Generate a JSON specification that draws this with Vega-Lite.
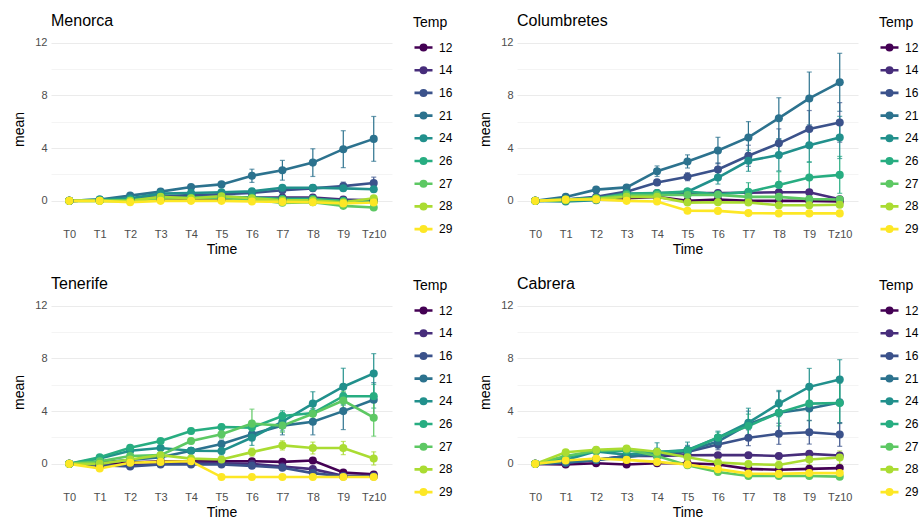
{
"$schema": "https://vega.github.io/schema/vega-lite/v6.json",
"padding": {"left": 12, "top": 13, "right": 0, "bottom": 0},
"background": "white",
"config": {
  "font": "Liberation Sans",
  "view": {"stroke": null},
  "axis": {"domain": false, "ticks": false, "gridColor": "#EBEBEB", "gridWidth": 1.1, "labelColor": "#4D4D4D", "labelFontSize": 11, "titleFontSize": 14, "titleFontWeight": "normal", "titleColor": "#000000"},
  "title": {"fontSize": 16, "fontWeight": "normal", "color": "#000000", "anchor": "start", "frame": "group", "offset": -13},
  "legend": {"symbolOpacity": 1}
},
"data": {"values": [
{"Site":"Menorca","Temp":12,"Time":"T0","mean":0,"se":0},{"Site":"Menorca","Temp":12,"Time":"T1","mean":0.05,"se":0.03},{"Site":"Menorca","Temp":12,"Time":"T2","mean":0.1,"se":0.05},{"Site":"Menorca","Temp":12,"Time":"T3","mean":0.15,"se":0.05},{"Site":"Menorca","Temp":12,"Time":"T4","mean":0.15,"se":0.05},{"Site":"Menorca","Temp":12,"Time":"T5","mean":0.15,"se":0.05},{"Site":"Menorca","Temp":12,"Time":"T6","mean":0.15,"se":0.05},{"Site":"Menorca","Temp":12,"Time":"T7","mean":0.1,"se":0.05},{"Site":"Menorca","Temp":12,"Time":"T8","mean":0.1,"se":0.05},{"Site":"Menorca","Temp":12,"Time":"T9","mean":0.05,"se":0.05},{"Site":"Menorca","Temp":12,"Time":"Tz10","mean":0.0,"se":0.05},
{"Site":"Menorca","Temp":14,"Time":"T0","mean":0,"se":0},{"Site":"Menorca","Temp":14,"Time":"T1","mean":0.05,"se":0.03},{"Site":"Menorca","Temp":14,"Time":"T2","mean":0.15,"se":0.05},{"Site":"Menorca","Temp":14,"Time":"T3","mean":0.3,"se":0.08},{"Site":"Menorca","Temp":14,"Time":"T4","mean":0.3,"se":0.08},{"Site":"Menorca","Temp":14,"Time":"T5","mean":0.3,"se":0.08},{"Site":"Menorca","Temp":14,"Time":"T6","mean":0.25,"se":0.1},{"Site":"Menorca","Temp":14,"Time":"T7","mean":0.25,"se":0.1},{"Site":"Menorca","Temp":14,"Time":"T8","mean":0.25,"se":0.1},{"Site":"Menorca","Temp":14,"Time":"T9","mean":0.1,"se":0.1},{"Site":"Menorca","Temp":14,"Time":"Tz10","mean":0.05,"se":0.1},
{"Site":"Menorca","Temp":16,"Time":"T0","mean":0,"se":0},{"Site":"Menorca","Temp":16,"Time":"T1","mean":0.05,"se":0.03},{"Site":"Menorca","Temp":16,"Time":"T2","mean":0.15,"se":0.05},{"Site":"Menorca","Temp":16,"Time":"T3","mean":0.35,"se":0.1},{"Site":"Menorca","Temp":16,"Time":"T4","mean":0.45,"se":0.1},{"Site":"Menorca","Temp":16,"Time":"T5","mean":0.5,"se":0.15},{"Site":"Menorca","Temp":16,"Time":"T6","mean":0.6,"se":0.15},{"Site":"Menorca","Temp":16,"Time":"T7","mean":0.8,"se":0.2},{"Site":"Menorca","Temp":16,"Time":"T8","mean":0.95,"se":0.2},{"Site":"Menorca","Temp":16,"Time":"T9","mean":1.12,"se":0.3},{"Site":"Menorca","Temp":16,"Time":"Tz10","mean":1.35,"se":0.45},
{"Site":"Menorca","Temp":21,"Time":"T0","mean":0,"se":0},{"Site":"Menorca","Temp":21,"Time":"T1","mean":0.1,"se":0.05},{"Site":"Menorca","Temp":21,"Time":"T2","mean":0.4,"se":0.1},{"Site":"Menorca","Temp":21,"Time":"T3","mean":0.7,"se":0.1},{"Site":"Menorca","Temp":21,"Time":"T4","mean":1.05,"se":0.15},{"Site":"Menorca","Temp":21,"Time":"T5","mean":1.25,"se":0.2},{"Site":"Menorca","Temp":21,"Time":"T6","mean":1.9,"se":0.5},{"Site":"Menorca","Temp":21,"Time":"T7","mean":2.32,"se":0.75},{"Site":"Menorca","Temp":21,"Time":"T8","mean":2.9,"se":1.05},{"Site":"Menorca","Temp":21,"Time":"T9","mean":3.92,"se":1.4},{"Site":"Menorca","Temp":21,"Time":"Tz10","mean":4.7,"se":1.7},
{"Site":"Menorca","Temp":24,"Time":"T0","mean":0,"se":0},{"Site":"Menorca","Temp":24,"Time":"T1","mean":0.1,"se":0.03},{"Site":"Menorca","Temp":24,"Time":"T2","mean":0.2,"se":0.05},{"Site":"Menorca","Temp":24,"Time":"T3","mean":0.55,"se":0.1},{"Site":"Menorca","Temp":24,"Time":"T4","mean":0.6,"se":0.1},{"Site":"Menorca","Temp":24,"Time":"T5","mean":0.65,"se":0.1},{"Site":"Menorca","Temp":24,"Time":"T6","mean":0.72,"se":0.15},{"Site":"Menorca","Temp":24,"Time":"T7","mean":1.0,"se":0.15},{"Site":"Menorca","Temp":24,"Time":"T8","mean":1.0,"se":0.2},{"Site":"Menorca","Temp":24,"Time":"T9","mean":0.95,"se":0.2},{"Site":"Menorca","Temp":24,"Time":"Tz10","mean":0.88,"se":0.2},
{"Site":"Menorca","Temp":26,"Time":"T0","mean":0,"se":0},{"Site":"Menorca","Temp":26,"Time":"T1","mean":0.05,"se":0.03},{"Site":"Menorca","Temp":26,"Time":"T2","mean":0.1,"se":0.05},{"Site":"Menorca","Temp":26,"Time":"T3","mean":0.2,"se":0.05},{"Site":"Menorca","Temp":26,"Time":"T4","mean":0.25,"se":0.05},{"Site":"Menorca","Temp":26,"Time":"T5","mean":0.3,"se":0.05},{"Site":"Menorca","Temp":26,"Time":"T6","mean":0.25,"se":0.05},{"Site":"Menorca","Temp":26,"Time":"T7","mean":0.15,"se":0.1},{"Site":"Menorca","Temp":26,"Time":"T8","mean":0.15,"se":0.1},{"Site":"Menorca","Temp":26,"Time":"T9","mean":0.0,"se":0.1},{"Site":"Menorca","Temp":26,"Time":"Tz10","mean":-0.05,"se":0.1},
{"Site":"Menorca","Temp":27,"Time":"T0","mean":0,"se":0},{"Site":"Menorca","Temp":27,"Time":"T1","mean":0.0,"se":0.03},{"Site":"Menorca","Temp":27,"Time":"T2","mean":0.0,"se":0.05},{"Site":"Menorca","Temp":27,"Time":"T3","mean":0.2,"se":0.05},{"Site":"Menorca","Temp":27,"Time":"T4","mean":0.2,"se":0.05},{"Site":"Menorca","Temp":27,"Time":"T5","mean":0.2,"se":0.05},{"Site":"Menorca","Temp":27,"Time":"T6","mean":0.1,"se":0.05},{"Site":"Menorca","Temp":27,"Time":"T7","mean":-0.15,"se":0.1},{"Site":"Menorca","Temp":27,"Time":"T8","mean":-0.1,"se":0.1},{"Site":"Menorca","Temp":27,"Time":"T9","mean":-0.38,"se":0.1},{"Site":"Menorca","Temp":27,"Time":"Tz10","mean":-0.5,"se":0.1},
{"Site":"Menorca","Temp":28,"Time":"T0","mean":0,"se":0},{"Site":"Menorca","Temp":28,"Time":"T1","mean":0.0,"se":0.03},{"Site":"Menorca","Temp":28,"Time":"T2","mean":0.0,"se":0.05},{"Site":"Menorca","Temp":28,"Time":"T3","mean":0.3,"se":0.05},{"Site":"Menorca","Temp":28,"Time":"T4","mean":0.2,"se":0.05},{"Site":"Menorca","Temp":28,"Time":"T5","mean":0.35,"se":0.05},{"Site":"Menorca","Temp":28,"Time":"T6","mean":0.2,"se":0.1},{"Site":"Menorca","Temp":28,"Time":"T7","mean":0.05,"se":0.1},{"Site":"Menorca","Temp":28,"Time":"T8","mean":0.05,"se":0.1},{"Site":"Menorca","Temp":28,"Time":"T9","mean":-0.1,"se":0.1},{"Site":"Menorca","Temp":28,"Time":"Tz10","mean":0.2,"se":0.15},
{"Site":"Menorca","Temp":29,"Time":"T0","mean":0,"se":0},{"Site":"Menorca","Temp":29,"Time":"T1","mean":0.0,"se":0.03},{"Site":"Menorca","Temp":29,"Time":"T2","mean":-0.1,"se":0.03},{"Site":"Menorca","Temp":29,"Time":"T3","mean":0.0,"se":0.03},{"Site":"Menorca","Temp":29,"Time":"T4","mean":0.0,"se":0.03},{"Site":"Menorca","Temp":29,"Time":"T5","mean":0.0,"se":0.03},{"Site":"Menorca","Temp":29,"Time":"T6","mean":-0.05,"se":0.03},{"Site":"Menorca","Temp":29,"Time":"T7","mean":-0.08,"se":0.03},{"Site":"Menorca","Temp":29,"Time":"T8","mean":-0.1,"se":0.05},{"Site":"Menorca","Temp":29,"Time":"T9","mean":-0.2,"se":0.05},{"Site":"Menorca","Temp":29,"Time":"Tz10","mean":-0.12,"se":0.05},
{"Site":"Columbretes","Temp":12,"Time":"T0","mean":0,"se":0},{"Site":"Columbretes","Temp":12,"Time":"T1","mean":0.05,"se":0.03},{"Site":"Columbretes","Temp":12,"Time":"T2","mean":0.1,"se":0.05},{"Site":"Columbretes","Temp":12,"Time":"T3","mean":0.2,"se":0.05},{"Site":"Columbretes","Temp":12,"Time":"T4","mean":0.3,"se":0.1},{"Site":"Columbretes","Temp":12,"Time":"T5","mean":0.0,"se":0.05},{"Site":"Columbretes","Temp":12,"Time":"T6","mean":0.1,"se":0.05},{"Site":"Columbretes","Temp":12,"Time":"T7","mean":0.0,"se":0.05},{"Site":"Columbretes","Temp":12,"Time":"T8","mean":0.0,"se":0.05},{"Site":"Columbretes","Temp":12,"Time":"T9","mean":0.0,"se":0.05},{"Site":"Columbretes","Temp":12,"Time":"Tz10","mean":-0.05,"se":0.05},
{"Site":"Columbretes","Temp":14,"Time":"T0","mean":0,"se":0},{"Site":"Columbretes","Temp":14,"Time":"T1","mean":0.1,"se":0.03},{"Site":"Columbretes","Temp":14,"Time":"T2","mean":0.2,"se":0.05},{"Site":"Columbretes","Temp":14,"Time":"T3","mean":0.5,"se":0.1},{"Site":"Columbretes","Temp":14,"Time":"T4","mean":0.6,"se":0.15},{"Site":"Columbretes","Temp":14,"Time":"T5","mean":0.6,"se":0.15},{"Site":"Columbretes","Temp":14,"Time":"T6","mean":0.6,"se":0.15},{"Site":"Columbretes","Temp":14,"Time":"T7","mean":0.62,"se":0.2},{"Site":"Columbretes","Temp":14,"Time":"T8","mean":0.65,"se":0.2},{"Site":"Columbretes","Temp":14,"Time":"T9","mean":0.65,"se":0.2},{"Site":"Columbretes","Temp":14,"Time":"Tz10","mean":0.12,"se":0.1},
{"Site":"Columbretes","Temp":16,"Time":"T0","mean":0,"se":0},{"Site":"Columbretes","Temp":16,"Time":"T1","mean":0.1,"se":0.05},{"Site":"Columbretes","Temp":16,"Time":"T2","mean":0.3,"se":0.1},{"Site":"Columbretes","Temp":16,"Time":"T3","mean":0.7,"se":0.1},{"Site":"Columbretes","Temp":16,"Time":"T4","mean":1.4,"se":0.2},{"Site":"Columbretes","Temp":16,"Time":"T5","mean":1.83,"se":0.3},{"Site":"Columbretes","Temp":16,"Time":"T6","mean":2.38,"se":0.5},{"Site":"Columbretes","Temp":16,"Time":"T7","mean":3.42,"se":0.8},{"Site":"Columbretes","Temp":16,"Time":"T8","mean":4.36,"se":1.1},{"Site":"Columbretes","Temp":16,"Time":"T9","mean":5.45,"se":1.4},{"Site":"Columbretes","Temp":16,"Time":"Tz10","mean":5.95,"se":1.5},
{"Site":"Columbretes","Temp":21,"Time":"T0","mean":0,"se":0},{"Site":"Columbretes","Temp":21,"Time":"T1","mean":0.3,"se":0.05},{"Site":"Columbretes","Temp":21,"Time":"T2","mean":0.85,"se":0.1},{"Site":"Columbretes","Temp":21,"Time":"T3","mean":1.02,"se":0.15},{"Site":"Columbretes","Temp":21,"Time":"T4","mean":2.25,"se":0.4},{"Site":"Columbretes","Temp":21,"Time":"T5","mean":2.99,"se":0.5},{"Site":"Columbretes","Temp":21,"Time":"T6","mean":3.82,"se":1.0},{"Site":"Columbretes","Temp":21,"Time":"T7","mean":4.81,"se":1.2},{"Site":"Columbretes","Temp":21,"Time":"T8","mean":6.27,"se":1.55},{"Site":"Columbretes","Temp":21,"Time":"T9","mean":7.77,"se":2.0},{"Site":"Columbretes","Temp":21,"Time":"Tz10","mean":8.99,"se":2.2},
{"Site":"Columbretes","Temp":24,"Time":"T0","mean":0,"se":0},{"Site":"Columbretes","Temp":24,"Time":"T1","mean":-0.05,"se":0.03},{"Site":"Columbretes","Temp":24,"Time":"T2","mean":0.05,"se":0.05},{"Site":"Columbretes","Temp":24,"Time":"T3","mean":0.5,"se":0.1},{"Site":"Columbretes","Temp":24,"Time":"T4","mean":0.5,"se":0.15},{"Site":"Columbretes","Temp":24,"Time":"T5","mean":0.7,"se":0.2},{"Site":"Columbretes","Temp":24,"Time":"T6","mean":1.77,"se":0.5},{"Site":"Columbretes","Temp":24,"Time":"T7","mean":3.04,"se":0.8},{"Site":"Columbretes","Temp":24,"Time":"T8","mean":3.47,"se":1.2},{"Site":"Columbretes","Temp":24,"Time":"T9","mean":4.22,"se":1.3},{"Site":"Columbretes","Temp":24,"Time":"Tz10","mean":4.81,"se":1.6},
{"Site":"Columbretes","Temp":26,"Time":"T0","mean":0,"se":0},{"Site":"Columbretes","Temp":26,"Time":"T1","mean":0.1,"se":0.03},{"Site":"Columbretes","Temp":26,"Time":"T2","mean":0.2,"se":0.05},{"Site":"Columbretes","Temp":26,"Time":"T3","mean":0.55,"se":0.1},{"Site":"Columbretes","Temp":26,"Time":"T4","mean":0.6,"se":0.15},{"Site":"Columbretes","Temp":26,"Time":"T5","mean":0.7,"se":0.2},{"Site":"Columbretes","Temp":26,"Time":"T6","mean":0.5,"se":0.3},{"Site":"Columbretes","Temp":26,"Time":"T7","mean":0.68,"se":0.7},{"Site":"Columbretes","Temp":26,"Time":"T8","mean":1.21,"se":1.0},{"Site":"Columbretes","Temp":26,"Time":"T9","mean":1.77,"se":1.2},{"Site":"Columbretes","Temp":26,"Time":"Tz10","mean":1.97,"se":1.4},
{"Site":"Columbretes","Temp":27,"Time":"T0","mean":0,"se":0},{"Site":"Columbretes","Temp":27,"Time":"T1","mean":0.1,"se":0.03},{"Site":"Columbretes","Temp":27,"Time":"T2","mean":0.2,"se":0.05},{"Site":"Columbretes","Temp":27,"Time":"T3","mean":0.45,"se":0.1},{"Site":"Columbretes","Temp":27,"Time":"T4","mean":0.45,"se":0.1},{"Site":"Columbretes","Temp":27,"Time":"T5","mean":0.45,"se":0.1},{"Site":"Columbretes","Temp":27,"Time":"T6","mean":0.45,"se":0.1},{"Site":"Columbretes","Temp":27,"Time":"T7","mean":0.3,"se":0.2},{"Site":"Columbretes","Temp":27,"Time":"T8","mean":0.3,"se":0.2},{"Site":"Columbretes","Temp":27,"Time":"T9","mean":0.13,"se":0.2},{"Site":"Columbretes","Temp":27,"Time":"Tz10","mean":0.1,"se":0.2},
{"Site":"Columbretes","Temp":28,"Time":"T0","mean":0,"se":0},{"Site":"Columbretes","Temp":28,"Time":"T1","mean":0.05,"se":0.03},{"Site":"Columbretes","Temp":28,"Time":"T2","mean":0.15,"se":0.05},{"Site":"Columbretes","Temp":28,"Time":"T3","mean":0.3,"se":0.05},{"Site":"Columbretes","Temp":28,"Time":"T4","mean":0.3,"se":0.1},{"Site":"Columbretes","Temp":28,"Time":"T5","mean":-0.13,"se":0.1},{"Site":"Columbretes","Temp":28,"Time":"T6","mean":-0.1,"se":0.1},{"Site":"Columbretes","Temp":28,"Time":"T7","mean":-0.13,"se":0.2},{"Site":"Columbretes","Temp":28,"Time":"T8","mean":-0.33,"se":0.2},{"Site":"Columbretes","Temp":28,"Time":"T9","mean":-0.33,"se":0.2},{"Site":"Columbretes","Temp":28,"Time":"Tz10","mean":-0.3,"se":0.2},
{"Site":"Columbretes","Temp":29,"Time":"T0","mean":0,"se":0},{"Site":"Columbretes","Temp":29,"Time":"T1","mean":0.1,"se":0.03},{"Site":"Columbretes","Temp":29,"Time":"T2","mean":0.1,"se":0.03},{"Site":"Columbretes","Temp":29,"Time":"T3","mean":0.0,"se":0.03},{"Site":"Columbretes","Temp":29,"Time":"T4","mean":-0.05,"se":0.03},{"Site":"Columbretes","Temp":29,"Time":"T5","mean":-0.75,"se":0.05},{"Site":"Columbretes","Temp":29,"Time":"T6","mean":-0.76,"se":0.05},{"Site":"Columbretes","Temp":29,"Time":"T7","mean":-0.93,"se":0.05},{"Site":"Columbretes","Temp":29,"Time":"T8","mean":-0.95,"se":0.05},{"Site":"Columbretes","Temp":29,"Time":"T9","mean":-0.95,"se":0.05},{"Site":"Columbretes","Temp":29,"Time":"Tz10","mean":-0.95,"se":0.05},
{"Site":"Tenerife","Temp":12,"Time":"T0","mean":0,"se":0},{"Site":"Tenerife","Temp":12,"Time":"T1","mean":-0.1,"se":0.03},{"Site":"Tenerife","Temp":12,"Time":"T2","mean":0.1,"se":0.05},{"Site":"Tenerife","Temp":12,"Time":"T3","mean":0.2,"se":0.1},{"Site":"Tenerife","Temp":12,"Time":"T4","mean":0.2,"se":0.1},{"Site":"Tenerife","Temp":12,"Time":"T5","mean":0.2,"se":0.1},{"Site":"Tenerife","Temp":12,"Time":"T6","mean":0.2,"se":0.1},{"Site":"Tenerife","Temp":12,"Time":"T7","mean":0.15,"se":0.1},{"Site":"Tenerife","Temp":12,"Time":"T8","mean":0.25,"se":0.15},{"Site":"Tenerife","Temp":12,"Time":"T9","mean":-0.65,"se":0.15},{"Site":"Tenerife","Temp":12,"Time":"Tz10","mean":-0.8,"se":0.1},
{"Site":"Tenerife","Temp":14,"Time":"T0","mean":0,"se":0},{"Site":"Tenerife","Temp":14,"Time":"T1","mean":-0.1,"se":0.03},{"Site":"Tenerife","Temp":14,"Time":"T2","mean":-0.1,"se":0.05},{"Site":"Tenerife","Temp":14,"Time":"T3","mean":0.0,"se":0.05},{"Site":"Tenerife","Temp":14,"Time":"T4","mean":0.1,"se":0.05},{"Site":"Tenerife","Temp":14,"Time":"T5","mean":0.05,"se":0.05},{"Site":"Tenerife","Temp":14,"Time":"T6","mean":0.0,"se":0.05},{"Site":"Tenerife","Temp":14,"Time":"T7","mean":-0.2,"se":0.1},{"Site":"Tenerife","Temp":14,"Time":"T8","mean":-0.4,"se":0.1},{"Site":"Tenerife","Temp":14,"Time":"T9","mean":-0.9,"se":0.1},{"Site":"Tenerife","Temp":14,"Time":"Tz10","mean":-0.9,"se":0.1},
{"Site":"Tenerife","Temp":16,"Time":"T0","mean":0,"se":0},{"Site":"Tenerife","Temp":16,"Time":"T1","mean":-0.1,"se":0.03},{"Site":"Tenerife","Temp":16,"Time":"T2","mean":-0.2,"se":0.05},{"Site":"Tenerife","Temp":16,"Time":"T3","mean":-0.05,"se":0.05},{"Site":"Tenerife","Temp":16,"Time":"T4","mean":-0.05,"se":0.05},{"Site":"Tenerife","Temp":16,"Time":"T5","mean":-0.05,"se":0.05},{"Site":"Tenerife","Temp":16,"Time":"T6","mean":-0.15,"se":0.05},{"Site":"Tenerife","Temp":16,"Time":"T7","mean":-0.3,"se":0.1},{"Site":"Tenerife","Temp":16,"Time":"T8","mean":-0.7,"se":0.1},{"Site":"Tenerife","Temp":16,"Time":"T9","mean":-0.95,"se":0.05},{"Site":"Tenerife","Temp":16,"Time":"Tz10","mean":-0.95,"se":0.05},
{"Site":"Tenerife","Temp":21,"Time":"T0","mean":0,"se":0},{"Site":"Tenerife","Temp":21,"Time":"T1","mean":0.1,"se":0.05},{"Site":"Tenerife","Temp":21,"Time":"T2","mean":0.3,"se":0.1},{"Site":"Tenerife","Temp":21,"Time":"T3","mean":0.5,"se":0.15},{"Site":"Tenerife","Temp":21,"Time":"T4","mean":1.0,"se":0.2},{"Site":"Tenerife","Temp":21,"Time":"T5","mean":1.5,"se":0.3},{"Site":"Tenerife","Temp":21,"Time":"T6","mean":2.25,"se":0.5},{"Site":"Tenerife","Temp":21,"Time":"T7","mean":2.9,"se":0.7},{"Site":"Tenerife","Temp":21,"Time":"T8","mean":3.2,"se":1.0},{"Site":"Tenerife","Temp":21,"Time":"T9","mean":4.0,"se":1.4},{"Site":"Tenerife","Temp":21,"Time":"Tz10","mean":4.86,"se":1.3},
{"Site":"Tenerife","Temp":24,"Time":"T0","mean":0,"se":0},{"Site":"Tenerife","Temp":24,"Time":"T1","mean":0.4,"se":0.1},{"Site":"Tenerife","Temp":24,"Time":"T2","mean":1.0,"se":0.1},{"Site":"Tenerife","Temp":24,"Time":"T3","mean":1.2,"se":0.15},{"Site":"Tenerife","Temp":24,"Time":"T4","mean":1.0,"se":0.2},{"Site":"Tenerife","Temp":24,"Time":"T5","mean":0.97,"se":0.3},{"Site":"Tenerife","Temp":24,"Time":"T6","mean":2.0,"se":0.6},{"Site":"Tenerife","Temp":24,"Time":"T7","mean":3.2,"se":0.7},{"Site":"Tenerife","Temp":24,"Time":"T8","mean":4.57,"se":0.9},{"Site":"Tenerife","Temp":24,"Time":"T9","mean":5.85,"se":1.4},{"Site":"Tenerife","Temp":24,"Time":"Tz10","mean":6.86,"se":1.5},
{"Site":"Tenerife","Temp":26,"Time":"T0","mean":0,"se":0},{"Site":"Tenerife","Temp":26,"Time":"T1","mean":0.5,"se":0.1},{"Site":"Tenerife","Temp":26,"Time":"T2","mean":1.22,"se":0.15},{"Site":"Tenerife","Temp":26,"Time":"T3","mean":1.73,"se":0.15},{"Site":"Tenerife","Temp":26,"Time":"T4","mean":2.49,"se":0.2},{"Site":"Tenerife","Temp":26,"Time":"T5","mean":2.8,"se":0.2},{"Site":"Tenerife","Temp":26,"Time":"T6","mean":2.75,"se":0.3},{"Site":"Tenerife","Temp":26,"Time":"T7","mean":3.63,"se":0.4},{"Site":"Tenerife","Temp":26,"Time":"T8","mean":3.85,"se":0.5},{"Site":"Tenerife","Temp":26,"Time":"T9","mean":5.13,"se":0.6},{"Site":"Tenerife","Temp":26,"Time":"Tz10","mean":5.13,"se":0.9},
{"Site":"Tenerife","Temp":27,"Time":"T0","mean":0,"se":0},{"Site":"Tenerife","Temp":27,"Time":"T1","mean":0.2,"se":0.1},{"Site":"Tenerife","Temp":27,"Time":"T2","mean":0.6,"se":0.1},{"Site":"Tenerife","Temp":27,"Time":"T3","mean":0.66,"se":0.15},{"Site":"Tenerife","Temp":27,"Time":"T4","mean":1.73,"se":0.2},{"Site":"Tenerife","Temp":27,"Time":"T5","mean":2.25,"se":0.3},{"Site":"Tenerife","Temp":27,"Time":"T6","mean":3.05,"se":1.1},{"Site":"Tenerife","Temp":27,"Time":"T7","mean":2.9,"se":0.5},{"Site":"Tenerife","Temp":27,"Time":"T8","mean":3.8,"se":0.6},{"Site":"Tenerife","Temp":27,"Time":"T9","mean":4.8,"se":0.7},{"Site":"Tenerife","Temp":27,"Time":"Tz10","mean":3.5,"se":1.4},
{"Site":"Tenerife","Temp":28,"Time":"T0","mean":0,"se":0},{"Site":"Tenerife","Temp":28,"Time":"T1","mean":0.0,"se":0.05},{"Site":"Tenerife","Temp":28,"Time":"T2","mean":0.33,"se":0.1},{"Site":"Tenerife","Temp":28,"Time":"T3","mean":0.66,"se":0.15},{"Site":"Tenerife","Temp":28,"Time":"T4","mean":0.4,"se":0.15},{"Site":"Tenerife","Temp":28,"Time":"T5","mean":0.33,"se":0.15},{"Site":"Tenerife","Temp":28,"Time":"T6","mean":0.89,"se":0.3},{"Site":"Tenerife","Temp":28,"Time":"T7","mean":1.4,"se":0.35},{"Site":"Tenerife","Temp":28,"Time":"T8","mean":1.2,"se":0.45},{"Site":"Tenerife","Temp":28,"Time":"T9","mean":1.2,"se":0.5},{"Site":"Tenerife","Temp":28,"Time":"Tz10","mean":0.41,"se":0.5},
{"Site":"Tenerife","Temp":29,"Time":"T0","mean":0,"se":0},{"Site":"Tenerife","Temp":29,"Time":"T1","mean":-0.35,"se":0.05},{"Site":"Tenerife","Temp":29,"Time":"T2","mean":0.08,"se":0.05},{"Site":"Tenerife","Temp":29,"Time":"T3","mean":0.15,"se":0.05},{"Site":"Tenerife","Temp":29,"Time":"T4","mean":0.2,"se":0.05},{"Site":"Tenerife","Temp":29,"Time":"T5","mean":-1.0,"se":0},{"Site":"Tenerife","Temp":29,"Time":"T6","mean":-1.0,"se":0},{"Site":"Tenerife","Temp":29,"Time":"T7","mean":-1.0,"se":0},{"Site":"Tenerife","Temp":29,"Time":"T8","mean":-1.0,"se":0},{"Site":"Tenerife","Temp":29,"Time":"T9","mean":-1.0,"se":0},{"Site":"Tenerife","Temp":29,"Time":"Tz10","mean":-1.0,"se":0},
{"Site":"Cabrera","Temp":12,"Time":"T0","mean":0,"se":0},{"Site":"Cabrera","Temp":12,"Time":"T1","mean":-0.05,"se":0.03},{"Site":"Cabrera","Temp":12,"Time":"T2","mean":0.05,"se":0.05},{"Site":"Cabrera","Temp":12,"Time":"T3","mean":-0.05,"se":0.05},{"Site":"Cabrera","Temp":12,"Time":"T4","mean":0.05,"se":0.05},{"Site":"Cabrera","Temp":12,"Time":"T5","mean":0.05,"se":0.05},{"Site":"Cabrera","Temp":12,"Time":"T6","mean":-0.05,"se":0.1},{"Site":"Cabrera","Temp":12,"Time":"T7","mean":-0.38,"se":0.1},{"Site":"Cabrera","Temp":12,"Time":"T8","mean":-0.45,"se":0.1},{"Site":"Cabrera","Temp":12,"Time":"T9","mean":-0.38,"se":0.1},{"Site":"Cabrera","Temp":12,"Time":"Tz10","mean":-0.32,"se":0.1},
{"Site":"Cabrera","Temp":14,"Time":"T0","mean":0,"se":0},{"Site":"Cabrera","Temp":14,"Time":"T1","mean":0.05,"se":0.05},{"Site":"Cabrera","Temp":14,"Time":"T2","mean":0.3,"se":0.1},{"Site":"Cabrera","Temp":14,"Time":"T3","mean":0.6,"se":0.1},{"Site":"Cabrera","Temp":14,"Time":"T4","mean":0.6,"se":0.15},{"Site":"Cabrera","Temp":14,"Time":"T5","mean":0.65,"se":0.15},{"Site":"Cabrera","Temp":14,"Time":"T6","mean":0.66,"se":0.15},{"Site":"Cabrera","Temp":14,"Time":"T7","mean":0.66,"se":0.2},{"Site":"Cabrera","Temp":14,"Time":"T8","mean":0.6,"se":0.2},{"Site":"Cabrera","Temp":14,"Time":"T9","mean":0.76,"se":0.2},{"Site":"Cabrera","Temp":14,"Time":"Tz10","mean":0.63,"se":0.2},
{"Site":"Cabrera","Temp":16,"Time":"T0","mean":0,"se":0},{"Site":"Cabrera","Temp":16,"Time":"T1","mean":0.1,"se":0.05},{"Site":"Cabrera","Temp":16,"Time":"T2","mean":0.3,"se":0.1},{"Site":"Cabrera","Temp":16,"Time":"T3","mean":0.6,"se":0.15},{"Site":"Cabrera","Temp":16,"Time":"T4","mean":0.65,"se":0.2},{"Site":"Cabrera","Temp":16,"Time":"T5","mean":0.9,"se":0.3},{"Site":"Cabrera","Temp":16,"Time":"T6","mean":1.47,"se":0.4},{"Site":"Cabrera","Temp":16,"Time":"T7","mean":1.98,"se":0.6},{"Site":"Cabrera","Temp":16,"Time":"T8","mean":2.28,"se":0.8},{"Site":"Cabrera","Temp":16,"Time":"T9","mean":2.4,"se":0.9},{"Site":"Cabrera","Temp":16,"Time":"Tz10","mean":2.23,"se":0.9},
{"Site":"Cabrera","Temp":21,"Time":"T0","mean":0,"se":0},{"Site":"Cabrera","Temp":21,"Time":"T1","mean":0.1,"se":0.1},{"Site":"Cabrera","Temp":21,"Time":"T2","mean":0.3,"se":0.15},{"Site":"Cabrera","Temp":21,"Time":"T3","mean":0.5,"se":0.2},{"Site":"Cabrera","Temp":21,"Time":"T4","mean":0.8,"se":0.3},{"Site":"Cabrera","Temp":21,"Time":"T5","mean":1.0,"se":0.4},{"Site":"Cabrera","Temp":21,"Time":"T6","mean":1.7,"se":0.5},{"Site":"Cabrera","Temp":21,"Time":"T7","mean":3.0,"se":1.0},{"Site":"Cabrera","Temp":21,"Time":"T8","mean":3.88,"se":1.6},{"Site":"Cabrera","Temp":21,"Time":"T9","mean":4.2,"se":1.7},{"Site":"Cabrera","Temp":21,"Time":"Tz10","mean":4.66,"se":1.6},
{"Site":"Cabrera","Temp":24,"Time":"T0","mean":0,"se":0},{"Site":"Cabrera","Temp":24,"Time":"T1","mean":0.3,"se":0.1},{"Site":"Cabrera","Temp":24,"Time":"T2","mean":0.95,"se":0.3},{"Site":"Cabrera","Temp":24,"Time":"T3","mean":0.7,"se":0.5},{"Site":"Cabrera","Temp":24,"Time":"T4","mean":0.9,"se":0.7},{"Site":"Cabrera","Temp":24,"Time":"T5","mean":1.05,"se":0.6},{"Site":"Cabrera","Temp":24,"Time":"T6","mean":1.98,"se":0.5},{"Site":"Cabrera","Temp":24,"Time":"T7","mean":3.12,"se":1.1},{"Site":"Cabrera","Temp":24,"Time":"T8","mean":4.57,"se":1.0},{"Site":"Cabrera","Temp":24,"Time":"T9","mean":5.84,"se":1.4},{"Site":"Cabrera","Temp":24,"Time":"Tz10","mean":6.4,"se":1.5},
{"Site":"Cabrera","Temp":26,"Time":"T0","mean":0,"se":0},{"Site":"Cabrera","Temp":26,"Time":"T1","mean":0.5,"se":0.1},{"Site":"Cabrera","Temp":26,"Time":"T2","mean":1.0,"se":0.15},{"Site":"Cabrera","Temp":26,"Time":"T3","mean":1.0,"se":0.2},{"Site":"Cabrera","Temp":26,"Time":"T4","mean":0.9,"se":0.3},{"Site":"Cabrera","Temp":26,"Time":"T5","mean":1.0,"se":0.3},{"Site":"Cabrera","Temp":26,"Time":"T6","mean":2.0,"se":0.4},{"Site":"Cabrera","Temp":26,"Time":"T7","mean":2.87,"se":0.9},{"Site":"Cabrera","Temp":26,"Time":"T8","mean":3.88,"se":1.0},{"Site":"Cabrera","Temp":26,"Time":"T9","mean":4.57,"se":1.3},{"Site":"Cabrera","Temp":26,"Time":"Tz10","mean":4.62,"se":1.5},
{"Site":"Cabrera","Temp":27,"Time":"T0","mean":0,"se":0},{"Site":"Cabrera","Temp":27,"Time":"T1","mean":0.6,"se":0.1},{"Site":"Cabrera","Temp":27,"Time":"T2","mean":1.0,"se":0.1},{"Site":"Cabrera","Temp":27,"Time":"T3","mean":1.1,"se":0.1},{"Site":"Cabrera","Temp":27,"Time":"T4","mean":0.6,"se":0.1},{"Site":"Cabrera","Temp":27,"Time":"T5","mean":-0.1,"se":0.1},{"Site":"Cabrera","Temp":27,"Time":"T6","mean":-0.62,"se":0.05},{"Site":"Cabrera","Temp":27,"Time":"T7","mean":-0.92,"se":0.05},{"Site":"Cabrera","Temp":27,"Time":"T8","mean":-0.92,"se":0.05},{"Site":"Cabrera","Temp":27,"Time":"T9","mean":-0.92,"se":0.05},{"Site":"Cabrera","Temp":27,"Time":"Tz10","mean":-0.97,"se":0.05},
{"Site":"Cabrera","Temp":28,"Time":"T0","mean":0,"se":0},{"Site":"Cabrera","Temp":28,"Time":"T1","mean":0.88,"se":0.1},{"Site":"Cabrera","Temp":28,"Time":"T2","mean":1.07,"se":0.1},{"Site":"Cabrera","Temp":28,"Time":"T3","mean":1.17,"se":0.1},{"Site":"Cabrera","Temp":28,"Time":"T4","mean":0.92,"se":0.15},{"Site":"Cabrera","Temp":28,"Time":"T5","mean":0.5,"se":0.15},{"Site":"Cabrera","Temp":28,"Time":"T6","mean":0.1,"se":0.15},{"Site":"Cabrera","Temp":28,"Time":"T7","mean":-0.02,"se":0.2},{"Site":"Cabrera","Temp":28,"Time":"T8","mean":-0.08,"se":0.3},{"Site":"Cabrera","Temp":28,"Time":"T9","mean":0.33,"se":0.4},{"Site":"Cabrera","Temp":28,"Time":"Tz10","mean":0.48,"se":0.5},
{"Site":"Cabrera","Temp":29,"Time":"T0","mean":0,"se":0},{"Site":"Cabrera","Temp":29,"Time":"T1","mean":0.25,"se":0.03},{"Site":"Cabrera","Temp":29,"Time":"T2","mean":0.41,"se":0.05},{"Site":"Cabrera","Temp":29,"Time":"T3","mean":0.3,"se":0.05},{"Site":"Cabrera","Temp":29,"Time":"T4","mean":0.15,"se":0.05},{"Site":"Cabrera","Temp":29,"Time":"T5","mean":-0.05,"se":0.05},{"Site":"Cabrera","Temp":29,"Time":"T6","mean":-0.4,"se":0.05},{"Site":"Cabrera","Temp":29,"Time":"T7","mean":-0.74,"se":0.05},{"Site":"Cabrera","Temp":29,"Time":"T8","mean":-0.76,"se":0.05},{"Site":"Cabrera","Temp":29,"Time":"T9","mean":-0.7,"se":0.05},{"Site":"Cabrera","Temp":29,"Time":"Tz10","mean":-0.7,"se":0.05}
]},
"resolve": {"legend": {"color": "independent"}},
"spacing": 20,
"vconcat": [
 {"hconcat": [
  {"title": {"text": "Menorca"}, "width": 341, "height": 190, "transform": [{"filter": "datum.Site === 'Menorca'"}],
   "encoding": {
    "x": {"field": "Time", "type": "ordinal", "sort": ["T0","T1","T2","T3","T4","T5","T6","T7","T8","T9","Tz10"], "scale": {"type": "point", "padding": 0.6}, "axis": {"title": "Time", "labelAngle": 0, "labelPadding": 4, "titlePadding": 3}},
    "y": {"field": "mean", "type": "quantitative", "scale": {"domain": [-1.755, 12.655], "nice": false, "zero": false}, "axis": {"title": "mean", "values": [0,2,4,6,8,10,12], "labelExpr": "datum.value % 4 === 0 ? datum.label : ''", "gridWidth": {"condition": {"test": "datum.value % 4 === 0", "value": 1.1}, "value": 0.55}, "labelPadding": 4, "titlePadding": 8}},
    "color": {"field": "Temp", "type": "ordinal", "scale": {"domain": [12,14,16,21,24,26,27,28,29], "range": ["#440154","#472D7B","#3B528B","#2C728E","#21908C","#27AD81","#5DC863","#AADC32","#FDE725"]}, "legend": {"orient": "none", "legendX": 362, "legendY": -18, "titleFontSize": 14, "titleFontWeight": "normal", "titleColor": "#000000", "titlePadding": 7, "labelFontSize": 12, "labelColor": "#000000", "symbolType": "M-1,0L1,0M-0.3,0A0.3,0.3 0 1,1 0.3,0A0.3,0.3 0 1,1 -0.3,0Z", "symbolSize": 324, "symbolStrokeWidth": 2.6, "symbolOpacity": 1, "rowPadding": 3.7, "labelOffset": 5}}
   },
   "layer": [
    {"mark": {"type": "errorbar", "ticks": {"size": 5}, "thickness": 1.2}, "encoding": {"yError": {"field": "se"}}},
    {"mark": {"type": "line", "strokeWidth": 2.6}},
    {"mark": {"type": "point", "filled": true, "size": 65, "opacity": 1}}
   ]},
  {"title": {"text": "Columbretes"}, "width": 341, "height": 190, "transform": [{"filter": "datum.Site === 'Columbretes'"}],
   "encoding": {
    "x": {"field": "Time", "type": "ordinal", "sort": ["T0","T1","T2","T3","T4","T5","T6","T7","T8","T9","Tz10"], "scale": {"type": "point", "padding": 0.6}, "axis": {"title": "Time", "labelAngle": 0, "labelPadding": 4, "titlePadding": 3}},
    "y": {"field": "mean", "type": "quantitative", "scale": {"domain": [-1.755, 12.655], "nice": false, "zero": false}, "axis": {"title": "mean", "values": [0,2,4,6,8,10,12], "labelExpr": "datum.value % 4 === 0 ? datum.label : ''", "gridWidth": {"condition": {"test": "datum.value % 4 === 0", "value": 1.1}, "value": 0.55}, "labelPadding": 4, "titlePadding": 8}},
    "color": {"field": "Temp", "type": "ordinal", "scale": {"domain": [12,14,16,21,24,26,27,28,29], "range": ["#440154","#472D7B","#3B528B","#2C728E","#21908C","#27AD81","#5DC863","#AADC32","#FDE725"]}, "legend": {"orient": "none", "legendX": 362, "legendY": -18, "titleFontSize": 14, "titleFontWeight": "normal", "titleColor": "#000000", "titlePadding": 7, "labelFontSize": 12, "labelColor": "#000000", "symbolType": "M-1,0L1,0M-0.3,0A0.3,0.3 0 1,1 0.3,0A0.3,0.3 0 1,1 -0.3,0Z", "symbolSize": 324, "symbolStrokeWidth": 2.6, "symbolOpacity": 1, "rowPadding": 3.7, "labelOffset": 5}}
   },
   "layer": [
    {"mark": {"type": "errorbar", "ticks": {"size": 5}, "thickness": 1.2}, "encoding": {"yError": {"field": "se"}}},
    {"mark": {"type": "line", "strokeWidth": 2.6}},
    {"mark": {"type": "point", "filled": true, "size": 65, "opacity": 1}}
   ]}
 ], "spacing": 25, "resolve": {"legend": {"color": "independent"}}},
 {"hconcat": [
  {"title": {"text": "Tenerife"}, "width": 341, "height": 190, "transform": [{"filter": "datum.Site === 'Tenerife'"}],
   "encoding": {
    "x": {"field": "Time", "type": "ordinal", "sort": ["T0","T1","T2","T3","T4","T5","T6","T7","T8","T9","Tz10"], "scale": {"type": "point", "padding": 0.6}, "axis": {"title": "Time", "labelAngle": 0, "labelPadding": 4, "titlePadding": 3}},
    "y": {"field": "mean", "type": "quantitative", "scale": {"domain": [-1.755, 12.655], "nice": false, "zero": false}, "axis": {"title": "mean", "values": [0,2,4,6,8,10,12], "labelExpr": "datum.value % 4 === 0 ? datum.label : ''", "gridWidth": {"condition": {"test": "datum.value % 4 === 0", "value": 1.1}, "value": 0.55}, "labelPadding": 4, "titlePadding": 8}},
    "color": {"field": "Temp", "type": "ordinal", "scale": {"domain": [12,14,16,21,24,26,27,28,29], "range": ["#440154","#472D7B","#3B528B","#2C728E","#21908C","#27AD81","#5DC863","#AADC32","#FDE725"]}, "legend": {"orient": "none", "legendX": 362, "legendY": -18, "titleFontSize": 14, "titleFontWeight": "normal", "titleColor": "#000000", "titlePadding": 7, "labelFontSize": 12, "labelColor": "#000000", "symbolType": "M-1,0L1,0M-0.3,0A0.3,0.3 0 1,1 0.3,0A0.3,0.3 0 1,1 -0.3,0Z", "symbolSize": 324, "symbolStrokeWidth": 2.6, "symbolOpacity": 1, "rowPadding": 3.7, "labelOffset": 5}}
   },
   "layer": [
    {"mark": {"type": "errorbar", "ticks": {"size": 5}, "thickness": 1.2}, "encoding": {"yError": {"field": "se"}}},
    {"mark": {"type": "line", "strokeWidth": 2.6}},
    {"mark": {"type": "point", "filled": true, "size": 65, "opacity": 1}}
   ]},
  {"title": {"text": "Cabrera"}, "width": 341, "height": 190, "transform": [{"filter": "datum.Site === 'Cabrera'"}],
   "encoding": {
    "x": {"field": "Time", "type": "ordinal", "sort": ["T0","T1","T2","T3","T4","T5","T6","T7","T8","T9","Tz10"], "scale": {"type": "point", "padding": 0.6}, "axis": {"title": "Time", "labelAngle": 0, "labelPadding": 4, "titlePadding": 3}},
    "y": {"field": "mean", "type": "quantitative", "scale": {"domain": [-1.755, 12.655], "nice": false, "zero": false}, "axis": {"title": "mean", "values": [0,2,4,6,8,10,12], "labelExpr": "datum.value % 4 === 0 ? datum.label : ''", "gridWidth": {"condition": {"test": "datum.value % 4 === 0", "value": 1.1}, "value": 0.55}, "labelPadding": 4, "titlePadding": 8}},
    "color": {"field": "Temp", "type": "ordinal", "scale": {"domain": [12,14,16,21,24,26,27,28,29], "range": ["#440154","#472D7B","#3B528B","#2C728E","#21908C","#27AD81","#5DC863","#AADC32","#FDE725"]}, "legend": {"orient": "none", "legendX": 362, "legendY": -18, "titleFontSize": 14, "titleFontWeight": "normal", "titleColor": "#000000", "titlePadding": 7, "labelFontSize": 12, "labelColor": "#000000", "symbolType": "M-1,0L1,0M-0.3,0A0.3,0.3 0 1,1 0.3,0A0.3,0.3 0 1,1 -0.3,0Z", "symbolSize": 324, "symbolStrokeWidth": 2.6, "symbolOpacity": 1, "rowPadding": 3.7, "labelOffset": 5}}
   },
   "layer": [
    {"mark": {"type": "errorbar", "ticks": {"size": 5}, "thickness": 1.2}, "encoding": {"yError": {"field": "se"}}},
    {"mark": {"type": "line", "strokeWidth": 2.6}},
    {"mark": {"type": "point", "filled": true, "size": 65, "opacity": 1}}
   ]}
 ], "spacing": 25, "resolve": {"legend": {"color": "independent"}}}
]
}
